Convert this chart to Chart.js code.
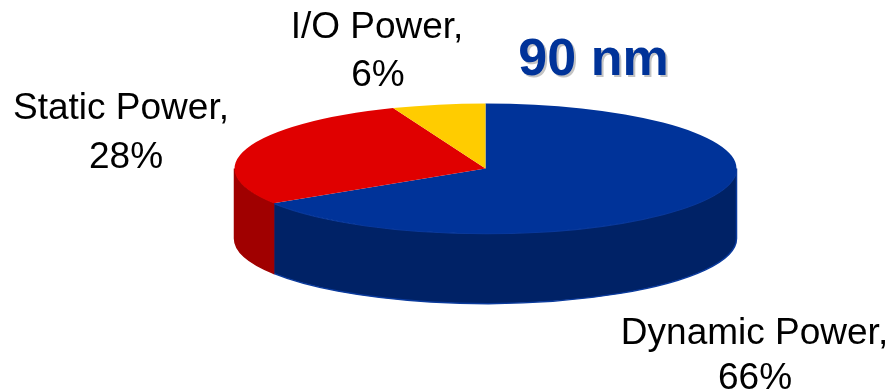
<!DOCTYPE html>
<html>
<head>
<meta charset="utf-8">
<style>
  html, body { margin: 0; padding: 0; background: #fff; overflow: hidden; }
  #wrap { position: relative; width: 893px; height: 390px; }
</style>
<script src="https://cdn.jsdelivr.net/npm/chart.js@4/dist/chart.umd.min.js"></script>
</head>
<body>
<div id="wrap"><canvas id="pie"></canvas></div>
<script>
const categories = ['Dynamic Power', 'Static Power', 'I/O Power'];
const shares = [66, 28, 6];
const topColors = ['#003399', '#E00000', '#FFCC00'];
const wallColors = ['#002266', '#A00000', '#B38F00'];
const wallEdges = ['#0A3A9C', '#A00000', '#B38F00'];
const chartTitle = '90 nm';

// Where the tilted disc sits on the page, and how thick it is
const disc = { cx: 485.5, cy: 168.5, rx: 251, ry: 65, depth: 70 };

// Anchors for the two-line slice captions (centre x, first and second baseline)
const captionAnchors = [
  { x1: 754.5, x2: 755, y1: 344, y2: 389 },
  { x1: 121, x2: 126, y1: 119, y2: 168 },
  { x1: 377, x2: 378, y1: 38, y2: 86 }
];

function tilt(ctx, arc) {
  const sx = disc.rx / arc.outerRadius;
  const sy = disc.ry / arc.outerRadius;
  ctx.setTransform(sx, 0, 0, sy, disc.cx - arc.x * sx, disc.cy - arc.y * sy);
  return sy;
}

const tiltedDisc = {
  id: 'tiltedDisc',
  beforeDatasetsDraw(chart) {
    const ctx = chart.ctx;
    const arcs = chart.getDatasetMeta(0).data;
    ctx.save();
    arcs.forEach((arc, i) => {
      // Only the part of the rim facing the viewer is visible
      const a0 = Math.max(arc.startAngle, 0);
      const a1 = Math.min(arc.endAngle, Math.PI);
      if (a1 <= a0) return;
      const sy = tilt(ctx, arc);
      const drop = disc.depth / sy;
      ctx.beginPath();
      ctx.arc(arc.x, arc.y, arc.outerRadius, a0, a1);
      ctx.arc(arc.x, arc.y + drop, arc.outerRadius, a1, a0, true);
      ctx.closePath();
      ctx.fillStyle = wallColors[i];
      ctx.fill();
      ctx.setTransform(1, 0, 0, 1, 0, 0);
      ctx.strokeStyle = wallEdges[i];
      ctx.lineWidth = 1.5;
      ctx.stroke();
    });
    tilt(ctx, arcs[0]);
  },
  afterDatasetsDraw(chart) {
    const ctx = chart.ctx;
    ctx.restore();
    ctx.save();
    ctx.fillStyle = '#000';
    ctx.font = '37px "Liberation Sans", Arial, sans-serif';
    ctx.textAlign = 'center';
    ctx.textBaseline = 'alphabetic';
    categories.forEach((name, i) => {
      const p = captionAnchors[i];
      ctx.fillText(name + ',', p.x1, p.y1);
      ctx.fillText(shares[i] + '%', p.x2, p.y2);
    });
    ctx.font = 'bold 52px "Liberation Sans", Arial, sans-serif';
    ctx.fillStyle = '#C4C4C4';
    ctx.fillText(chartTitle, 595.5, 77);
    ctx.fillStyle = '#003399';
    ctx.fillText(chartTitle, 593.5, 75);
    ctx.restore();
  }
};

new Chart(document.getElementById('pie'), {
  type: 'pie',
  data: {
    labels: categories,
    datasets: [{
      data: shares,
      backgroundColor: topColors,
      borderWidth: 0,
      clip: false
    }]
  },
  options: {
    responsive: true,
    maintainAspectRatio: false,
    animation: false,
    plugins: { legend: { display: false }, tooltip: { enabled: false } }
  },
  plugins: [tiltedDisc]
});
</script>
</body>
</html>
